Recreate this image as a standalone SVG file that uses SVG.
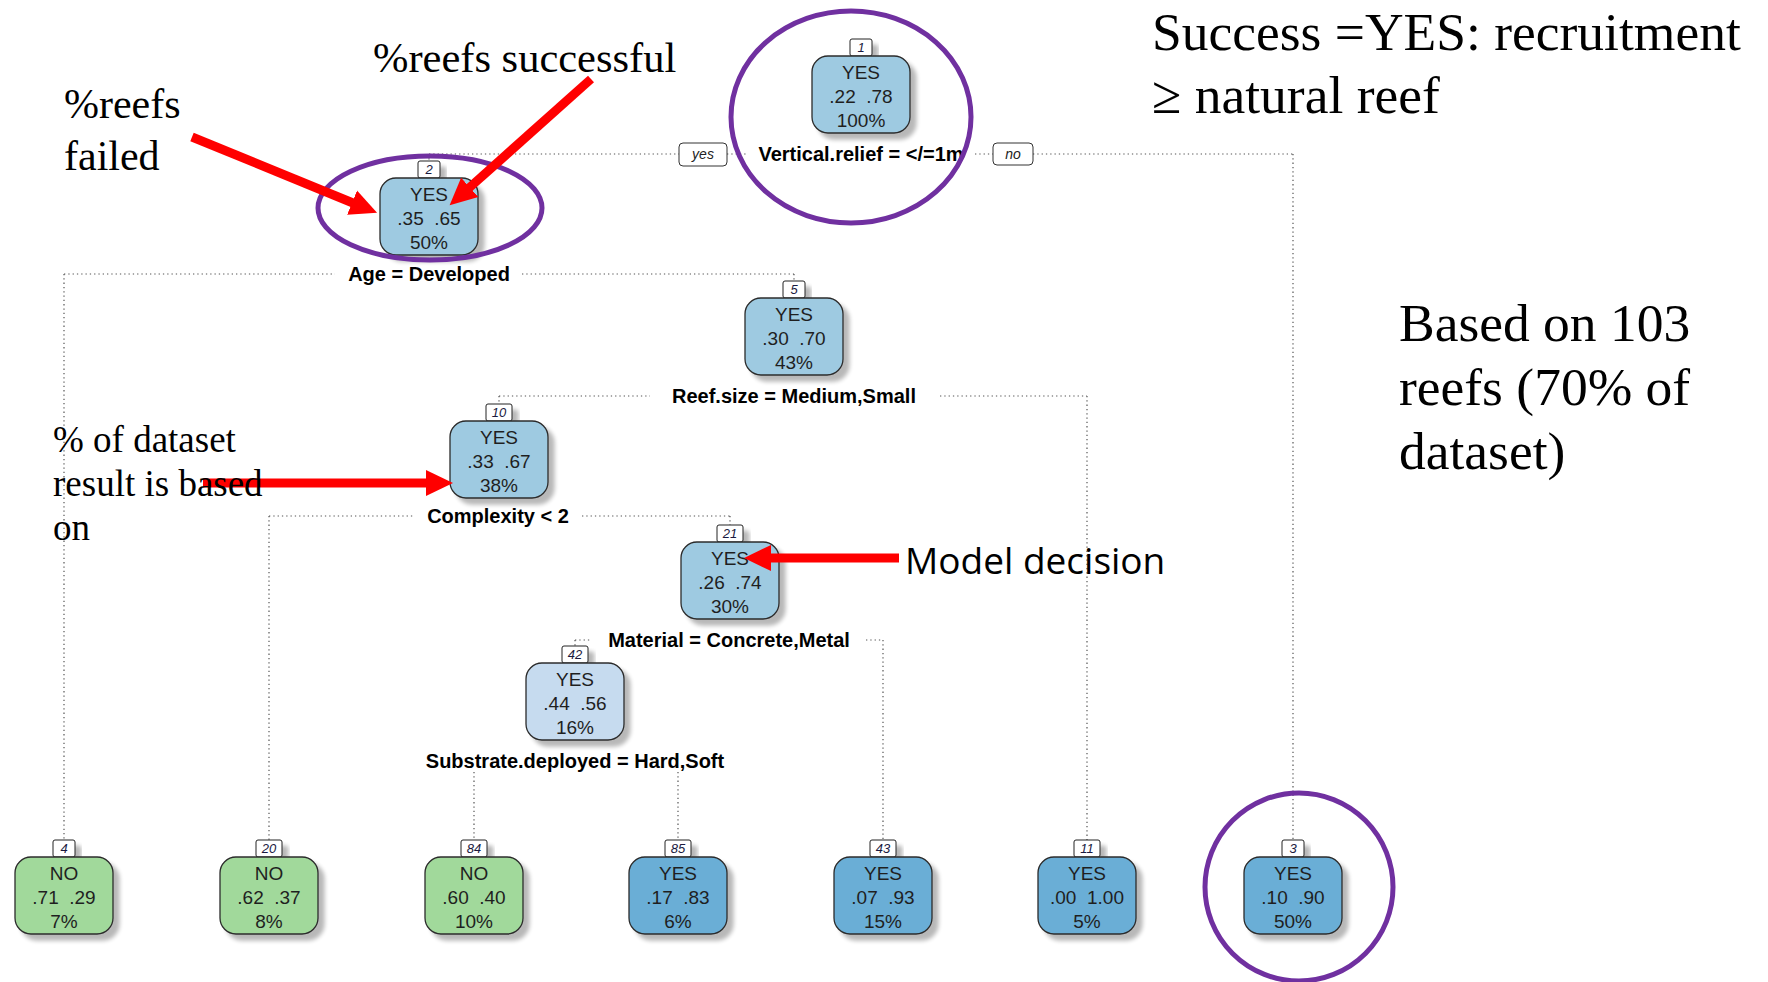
<svg xmlns="http://www.w3.org/2000/svg" width="1768" height="982" viewBox="0 0 1768 982">
<defs>
<style>
.box{stroke:#2b2b2b;stroke-width:1.3}
.int{fill:#9ecae1}
.lt{fill:#c6dbef}
.yes{fill:#6baed6}
.no{fill:#a1d99b}
.nt{font-family:"Liberation Sans",Arial,sans-serif;font-size:19px;fill:#1f1f1f;text-anchor:middle;white-space:pre}
.num{fill:#fff;stroke:#222;stroke-width:1}
.numt{font-family:"Liberation Sans",Arial,sans-serif;font-size:13px;font-style:italic;fill:#1a1a40;text-anchor:middle}
.split{font-family:"Liberation Sans",Arial,sans-serif;font-size:20px;font-weight:bold;fill:#000;text-anchor:middle}
.yn{fill:#fff;stroke:#333;stroke-width:1}
.ynt{font-family:"Liberation Sans",Arial,sans-serif;font-size:14px;font-style:italic;fill:#222;text-anchor:middle}
.dot{stroke:#555;stroke-width:1.2;stroke-dasharray:1.3 3;fill:none}
.ann{font-family:"Liberation Serif","Times New Roman",serif;fill:#000}
.sans{font-family:"Open Sans","Noto Sans",sans-serif;fill:#000}
.ring{fill:none;stroke:#7030a0;stroke-width:5}
.red{stroke:#ff0000;stroke-width:9;fill:none;marker-end:url(#ah)}
</style>
<filter id="sh" x="-20%" y="-20%" width="150%" height="150%">
<feGaussianBlur in="SourceAlpha" stdDeviation="2"/>
<feOffset dx="6" dy="6" result="o"/>
<feComponentTransfer><feFuncA type="linear" slope="0.28"/></feComponentTransfer>
<feMerge><feMergeNode/><feMergeNode in="SourceGraphic"/></feMerge>
</filter>
<marker id="ah" markerUnits="userSpaceOnUse" markerWidth="28" markerHeight="28" refX="1" refY="13" orient="auto" viewBox="0 0 28 26">
<path d="M0,0 L27,13 L0,26 Z" fill="#ff0000"/>
</marker>
</defs>

<g id="connectors">
<path class="dot" d="M429,154 H679 M727,154 H746 M975,154 H993 M1033,154 H1293 M429,154 V161 M1293,154 V840"/>
<path class="dot" d="M64,274 H335 M522,274 H794 M64,274 V840 M794,274 V281"/>
<path class="dot" d="M499,396 H650 M940,396 H1087 M499,396 V404 M1087,396 V840"/>
<path class="dot" d="M269,516 H415 M582,516 H730 M269,516 V840 M730,516 V525"/>
<path class="dot" d="M575,640 H592 M866,640 H883 M575,640 V646 M883,640 V840"/>
<path class="dot" d="M474,772 V840 M678,772 V840"/>
<rect class="yn" x="679" y="143" width="48" height="23" rx="4"/>
<text class="ynt" x="703" y="159">yes</text>
<rect class="yn" x="993" y="143" width="40" height="22" rx="4"/>
<text class="ynt" x="1013" y="159">no</text>
<text class="split" x="861" y="161">Vertical.relief = &lt;/=1m</text>
<text class="split" x="429" y="281">Age = Developed</text>
<text class="split" x="794" y="403">Reef.size = Medium,Small</text>
<text class="split" x="498" y="523">Complexity &lt; 2</text>
<text class="split" x="729" y="647">Material = Concrete,Metal</text>
<text class="split" x="575" y="768">Substrate.deployed = Hard,Soft</text>
</g>

<g id="node1">
<rect class="num" x="850" y="39" width="22" height="17" rx="2" filter="url(#sh)"/>
<text class="numt" x="861" y="52">1</text>
<rect class="box int" x="812" y="56" width="98" height="77" rx="16" filter="url(#sh)"/>
<text class="nt" x="861" y="79">YES</text>
<text class="nt" x="861" y="103">.22  .78</text>
<text class="nt" x="861" y="127">100%</text>
</g>

<g id="node2">
<rect class="num" x="418" y="161" width="22" height="17" rx="2" filter="url(#sh)"/>
<text class="numt" x="429" y="174">2</text>
<rect class="box int" x="380" y="178" width="98" height="77" rx="16" filter="url(#sh)"/>
<text class="nt" x="429" y="201">YES</text>
<text class="nt" x="429" y="225">.35  .65</text>
<text class="nt" x="429" y="249">50%</text>
</g>

<g id="node5">
<rect class="num" x="783" y="281" width="22" height="17" rx="2" filter="url(#sh)"/>
<text class="numt" x="794" y="294">5</text>
<rect class="box int" x="745" y="298" width="98" height="77" rx="16" filter="url(#sh)"/>
<text class="nt" x="794" y="321">YES</text>
<text class="nt" x="794" y="345">.30  .70</text>
<text class="nt" x="794" y="369">43%</text>
</g>

<g id="node10">
<rect class="num" x="486" y="404" width="26" height="17" rx="2" filter="url(#sh)"/>
<text class="numt" x="499" y="417">10</text>
<rect class="box int" x="450" y="421" width="98" height="77" rx="16" filter="url(#sh)"/>
<text class="nt" x="499" y="444">YES</text>
<text class="nt" x="499" y="468">.33  .67</text>
<text class="nt" x="499" y="492">38%</text>
</g>

<g id="node21">
<rect class="num" x="717" y="525" width="26" height="17" rx="2" filter="url(#sh)"/>
<text class="numt" x="730" y="538">21</text>
<rect class="box int" x="681" y="542" width="98" height="77" rx="16" filter="url(#sh)"/>
<text class="nt" x="730" y="565">YES</text>
<text class="nt" x="730" y="589">.26  .74</text>
<text class="nt" x="730" y="613">30%</text>
</g>

<g id="node42">
<rect class="num" x="562" y="646" width="26" height="17" rx="2" filter="url(#sh)"/>
<text class="numt" x="575" y="659">42</text>
<rect class="box lt" x="526" y="663" width="98" height="77" rx="16" filter="url(#sh)"/>
<text class="nt" x="575" y="686">YES</text>
<text class="nt" x="575" y="710">.44  .56</text>
<text class="nt" x="575" y="734">16%</text>
</g>

<g id="node4">
<rect class="num" x="53" y="840" width="22" height="17" rx="2" filter="url(#sh)"/>
<text class="numt" x="64" y="853">4</text>
<rect class="box no" x="15" y="857" width="98" height="77" rx="16" filter="url(#sh)"/>
<text class="nt" x="64" y="880">NO</text>
<text class="nt" x="64" y="904">.71  .29</text>
<text class="nt" x="64" y="928">7%</text>
</g>

<g id="node20">
<rect class="num" x="256" y="840" width="26" height="17" rx="2" filter="url(#sh)"/>
<text class="numt" x="269" y="853">20</text>
<rect class="box no" x="220" y="857" width="98" height="77" rx="16" filter="url(#sh)"/>
<text class="nt" x="269" y="880">NO</text>
<text class="nt" x="269" y="904">.62  .37</text>
<text class="nt" x="269" y="928">8%</text>
</g>

<g id="node84">
<rect class="num" x="461" y="840" width="26" height="17" rx="2" filter="url(#sh)"/>
<text class="numt" x="474" y="853">84</text>
<rect class="box no" x="425" y="857" width="98" height="77" rx="16" filter="url(#sh)"/>
<text class="nt" x="474" y="880">NO</text>
<text class="nt" x="474" y="904">.60  .40</text>
<text class="nt" x="474" y="928">10%</text>
</g>

<g id="node85">
<rect class="num" x="665" y="840" width="26" height="17" rx="2" filter="url(#sh)"/>
<text class="numt" x="678" y="853">85</text>
<rect class="box yes" x="629" y="857" width="98" height="77" rx="16" filter="url(#sh)"/>
<text class="nt" x="678" y="880">YES</text>
<text class="nt" x="678" y="904">.17  .83</text>
<text class="nt" x="678" y="928">6%</text>
</g>

<g id="node43">
<rect class="num" x="870" y="840" width="26" height="17" rx="2" filter="url(#sh)"/>
<text class="numt" x="883" y="853">43</text>
<rect class="box yes" x="834" y="857" width="98" height="77" rx="16" filter="url(#sh)"/>
<text class="nt" x="883" y="880">YES</text>
<text class="nt" x="883" y="904">.07  .93</text>
<text class="nt" x="883" y="928">15%</text>
</g>

<g id="node11">
<rect class="num" x="1074" y="840" width="26" height="17" rx="2" filter="url(#sh)"/>
<text class="numt" x="1087" y="853">11</text>
<rect class="box yes" x="1038" y="857" width="98" height="77" rx="16" filter="url(#sh)"/>
<text class="nt" x="1087" y="880">YES</text>
<text class="nt" x="1087" y="904">.00  1.00</text>
<text class="nt" x="1087" y="928">5%</text>
</g>

<g id="node3">
<rect class="num" x="1282" y="840" width="22" height="17" rx="2" filter="url(#sh)"/>
<text class="numt" x="1293" y="853">3</text>
<rect class="box yes" x="1244" y="857" width="98" height="77" rx="16" filter="url(#sh)"/>
<text class="nt" x="1293" y="880">YES</text>
<text class="nt" x="1293" y="904">.10  .90</text>
<text class="nt" x="1293" y="928">50%</text>
</g>

<g id="highlights">
<ellipse class="ring" cx="851" cy="117" rx="120" ry="106"/>
<ellipse class="ring" cx="430" cy="208" rx="112" ry="52"/>
<circle class="ring" cx="1299" cy="887" r="94"/>
</g>

<g id="annotations">
<line class="red" x1="192" y1="137" x2="353" y2="203"/>
<line class="red" x1="591" y1="79" x2="469" y2="188"/>
<line class="red" x1="203" y1="483" x2="427" y2="483"/>
<line class="red" x1="899" y1="558" x2="770" y2="558"/>
<text class="ann" x="373" y="72" font-size="42.5">%reefs successful</text>
<text class="ann" x="64" y="118" font-size="42">%reefs</text>
<text class="ann" x="64" y="170" font-size="42">failed</text>
<text class="ann" x="53" y="452" font-size="37">% of dataset</text>
<text class="ann" x="53" y="496" font-size="37">result is based</text>
<text class="ann" x="53" y="540" font-size="37">on</text>
<text class="sans" x="905" y="574" font-size="37">Model decision</text>
<text class="ann" x="1152" y="50" font-size="53.5">Success =YES: recruitment</text>
<text class="ann" x="1152" y="113" font-size="53.5">≥ natural reef</text>
<text class="ann" x="1399" y="341" font-size="53.5">Based on 103</text>
<text class="ann" x="1399" y="405" font-size="53.5">reefs (70% of</text>
<text class="ann" x="1399" y="469" font-size="53.5">dataset)</text>
</g>
</svg>
